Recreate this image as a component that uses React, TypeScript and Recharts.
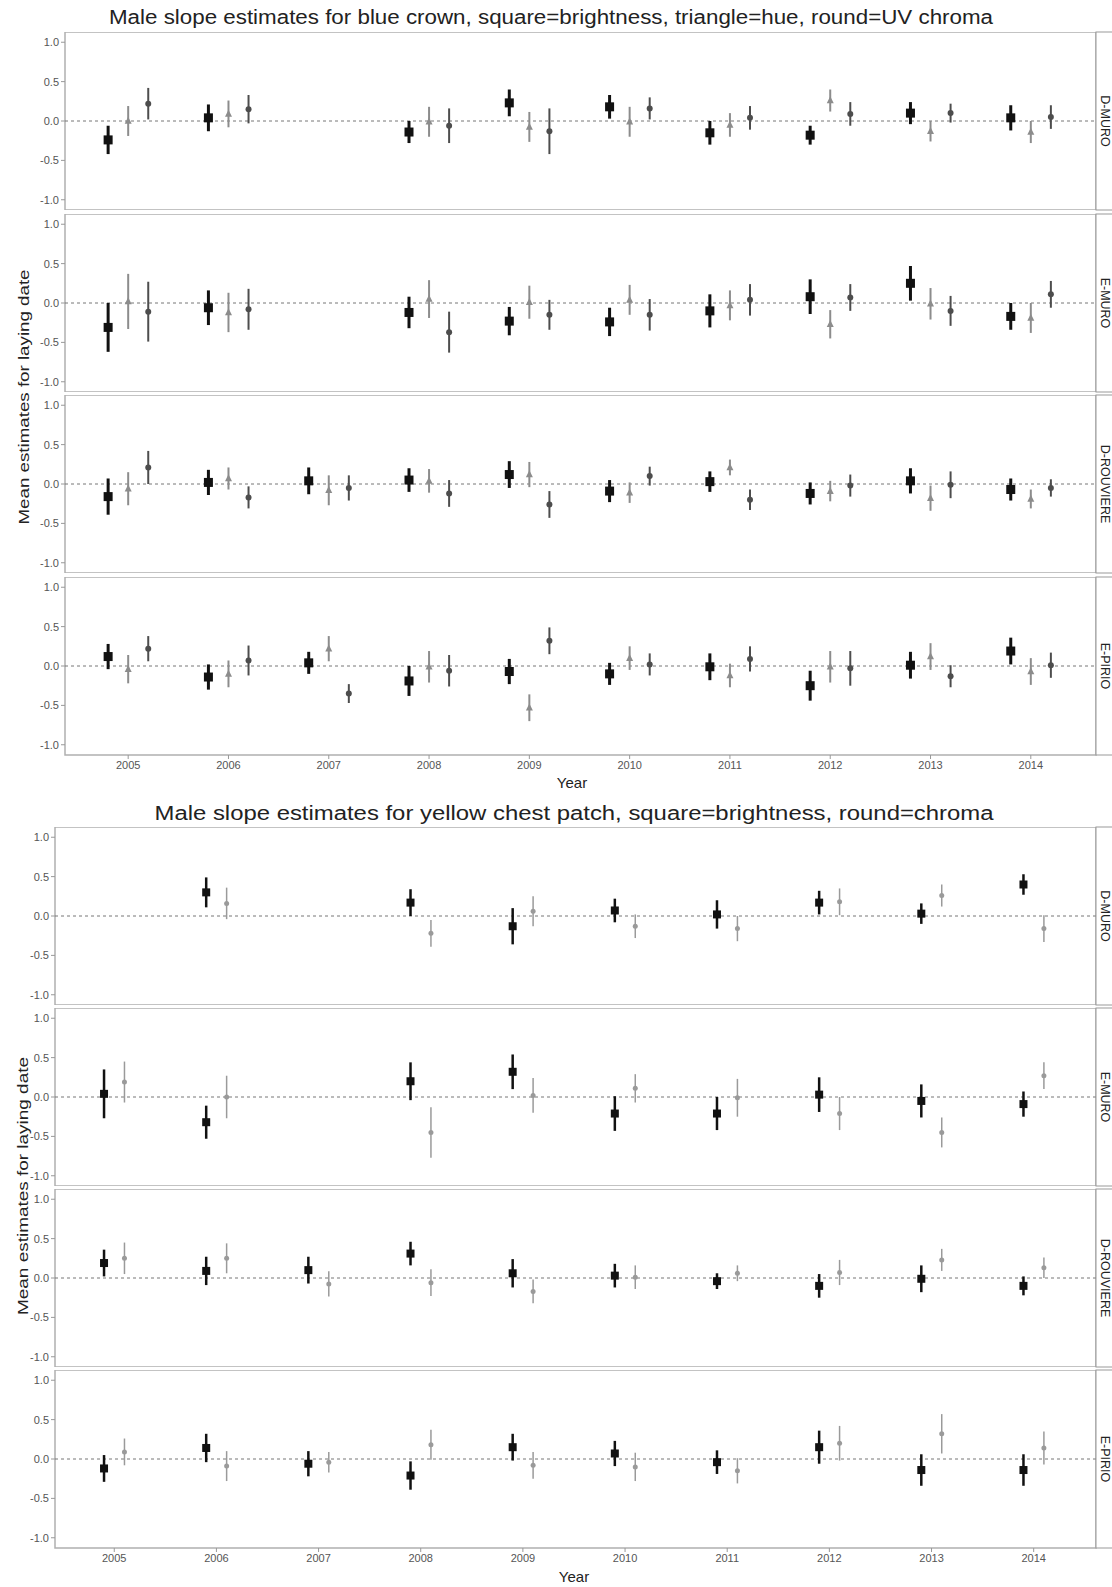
import React from "react";
import { ScatterChart, Scatter, XAxis, YAxis, ErrorBar, ReferenceLine, ReferenceArea } from "recharts";

const years = [2005, 2006, 2007, 2008, 2009, 2010, 2011, 2012, 2013, 2014];
const yTicks = [-1, -0.5, 0, 0.5, 1];
const sites = ["D-MURO", "E-MURO", "D-ROUVIERE", "E-PIRIO"];

// blue crown: brightness (square), hue (triangle), UV chroma (round); CI = half width
const crownDMuroBright = [-0.24, 0.04, null, -0.14, 0.23, 0.18, -0.15, -0.18, 0.1, 0.04];
const crownDMuroBrightCI = [0.18, 0.17, null, 0.14, 0.17, 0.15, 0.15, 0.12, 0.14, 0.16];
const crownDMuroHue = [0.0, 0.09, null, -0.01, -0.075, -0.01, -0.05, 0.26, -0.13, -0.14];
const crownDMuroHueCI = [0.19, 0.17, null, 0.19, 0.19, 0.19, 0.15, 0.14, 0.13, 0.14];
const crownDMuroUV = [0.22, 0.15, null, -0.06, -0.13, 0.16, 0.04, 0.09, 0.1, 0.05];
const crownDMuroUVCI = [0.2, 0.18, null, 0.22, 0.29, 0.14, 0.15, 0.15, 0.12, 0.15];

const crownEMuroBright = [-0.31, -0.06, null, -0.12, -0.23, -0.24, -0.1, 0.08, 0.25, -0.17];
const crownEMuroBrightCI = [0.31, 0.22, null, 0.2, 0.18, 0.18, 0.21, 0.22, 0.22, 0.17];
const crownEMuroHue = [0.02, -0.12, null, 0.05, 0.01, 0.04, -0.03, -0.27, -0.01, -0.19];
const crownEMuroHueCI = [0.35, 0.25, null, 0.24, 0.21, 0.19, 0.19, 0.18, 0.2, 0.19];
const crownEMuroUV = [-0.11, -0.08, null, -0.37, -0.15, -0.15, 0.04, 0.07, -0.1, 0.11];
const crownEMuroUVCI = [0.38, 0.26, null, 0.26, 0.19, 0.2, 0.2, 0.17, 0.19, 0.17];

const crownDRouvBright = [-0.16, 0.02, 0.04, 0.05, 0.12, -0.09, 0.03, -0.12, 0.04, -0.07];
const crownDRouvBrightCI = [0.23, 0.16, 0.17, 0.15, 0.17, 0.14, 0.13, 0.14, 0.16, 0.14];
const crownDRouvHue = [-0.06, 0.07, -0.08, 0.04, 0.12, -0.11, 0.21, -0.09, -0.18, -0.19];
const crownDRouvHueCI = [0.21, 0.14, 0.19, 0.15, 0.16, 0.13, 0.1, 0.13, 0.16, 0.12];
const crownDRouvUV = [0.21, -0.17, -0.05, -0.12, -0.26, 0.1, -0.2, -0.02, -0.01, -0.05];
const crownDRouvUVCI = [0.21, 0.14, 0.16, 0.17, 0.17, 0.12, 0.13, 0.14, 0.17, 0.11];

const crownEPirioBright = [0.12, -0.14, 0.04, -0.19, -0.07, -0.1, -0.01, -0.25, 0.01, 0.19];
const crownEPirioBrightCI = [0.16, 0.16, 0.14, 0.19, 0.16, 0.14, 0.17, 0.19, 0.17, 0.17];
const crownEPirioHue = [-0.04, -0.1, 0.22, -0.01, -0.53, 0.1, -0.12, -0.01, 0.12, -0.07];
const crownEPirioHueCI = [0.18, 0.17, 0.16, 0.2, 0.17, 0.15, 0.15, 0.2, 0.17, 0.17];
const crownEPirioUV = [0.22, 0.07, -0.35, -0.06, 0.32, 0.02, 0.09, -0.03, -0.13, 0.01];
const crownEPirioUVCI = [0.16, 0.19, 0.12, 0.2, 0.17, 0.14, 0.16, 0.22, 0.14, 0.16];

// yellow chest patch: brightness (square), chroma (round)
const chestDMuroBright = [null, 0.3, null, 0.17, -0.13, 0.07, 0.02, 0.17, 0.03, 0.4];
const chestDMuroBrightCI = [null, 0.19, null, 0.17, 0.23, 0.15, 0.18, 0.15, 0.13, 0.13];
const chestDMuroChroma = [null, 0.16, null, -0.22, 0.06, -0.13, -0.16, 0.18, 0.26, -0.16];
const chestDMuroChromaCI = [null, 0.2, null, 0.17, 0.19, 0.15, 0.16, 0.17, 0.14, 0.17];

const chestEMuroBright = [0.04, -0.32, null, 0.2, 0.32, -0.21, -0.21, 0.03, -0.05, -0.09];
const chestEMuroBrightCI = [0.31, 0.21, null, 0.24, 0.22, 0.22, 0.21, 0.22, 0.21, 0.16];
const chestEMuroChroma = [0.19, 0.0, null, -0.45, 0.02, 0.11, -0.01, -0.21, -0.45, 0.27];
const chestEMuroChromaCI = [0.26, 0.27, null, 0.32, 0.22, 0.18, 0.24, 0.21, 0.19, 0.17];

const chestDRouvBright = [0.19, 0.09, 0.1, 0.31, 0.06, 0.03, -0.04, -0.1, -0.01, -0.1];
const chestDRouvBrightCI = [0.17, 0.18, 0.17, 0.15, 0.18, 0.15, 0.1, 0.15, 0.17, 0.12];
const chestDRouvChroma = [0.25, 0.25, -0.075, -0.06, -0.17, 0.01, 0.06, 0.07, 0.23, 0.13];
const chestDRouvChromaCI = [0.2, 0.19, 0.16, 0.17, 0.15, 0.15, 0.1, 0.16, 0.14, 0.13];

const chestEPirioBright = [-0.12, 0.14, -0.06, -0.21, 0.15, 0.07, -0.04, 0.15, -0.14, -0.14];
const chestEPirioBrightCI = [0.17, 0.18, 0.16, 0.18, 0.17, 0.16, 0.15, 0.21, 0.2, 0.2];
const chestEPirioChroma = [0.09, -0.09, -0.04, 0.18, -0.08, -0.1, -0.15, 0.2, 0.32, 0.14];
const chestEPirioChromaCI = [0.17, 0.19, 0.13, 0.19, 0.17, 0.18, 0.16, 0.22, 0.25, 0.21];

const FONT = "'Liberation Sans', Arial, sans-serif";
const Y_DOMAIN: [number, number] = [-1.13, 1.13];
const PANEL_H = 178;
const PLOT_RIGHT = 1096;

type Kind = "square" | "triangle" | "circle";
type Style = { kind: Kind; shift: number; fill: string; size: number; bar: number };
type Series = { values: (number | null)[]; ci: (number | null)[]; style: Style };

const crownSquare: Style = { kind: "square", shift: -0.2, fill: "#111", size: 9, bar: 3 };
const crownTri: Style = { kind: "triangle", shift: 0, fill: "#8c8c8c", size: 7, bar: 2 };
const crownRound: Style = { kind: "circle", shift: 0.2, fill: "#4d4d4d", size: 6, bar: 2 };
const chestSquare: Style = { kind: "square", shift: -0.1, fill: "#111", size: 8, bar: 2.5 };
const chestRound: Style = { kind: "circle", shift: 0.1, fill: "#9a9a9a", size: 5, bar: 1.5 };

const crownPanels: Series[][] = [
  [
    { values: crownDMuroBright, ci: crownDMuroBrightCI, style: crownSquare },
    { values: crownDMuroHue, ci: crownDMuroHueCI, style: crownTri },
    { values: crownDMuroUV, ci: crownDMuroUVCI, style: crownRound },
  ],
  [
    { values: crownEMuroBright, ci: crownEMuroBrightCI, style: crownSquare },
    { values: crownEMuroHue, ci: crownEMuroHueCI, style: crownTri },
    { values: crownEMuroUV, ci: crownEMuroUVCI, style: crownRound },
  ],
  [
    { values: crownDRouvBright, ci: crownDRouvBrightCI, style: crownSquare },
    { values: crownDRouvHue, ci: crownDRouvHueCI, style: crownTri },
    { values: crownDRouvUV, ci: crownDRouvUVCI, style: crownRound },
  ],
  [
    { values: crownEPirioBright, ci: crownEPirioBrightCI, style: crownSquare },
    { values: crownEPirioHue, ci: crownEPirioHueCI, style: crownTri },
    { values: crownEPirioUV, ci: crownEPirioUVCI, style: crownRound },
  ],
];

const chestPanels: Series[][] = [
  [
    { values: chestDMuroBright, ci: chestDMuroBrightCI, style: chestSquare },
    { values: chestDMuroChroma, ci: chestDMuroChromaCI, style: chestRound },
  ],
  [
    { values: chestEMuroBright, ci: chestEMuroBrightCI, style: chestSquare },
    { values: chestEMuroChroma, ci: chestEMuroChromaCI, style: chestRound },
  ],
  [
    { values: chestDRouvBright, ci: chestDRouvBrightCI, style: chestSquare },
    { values: chestDRouvChroma, ci: chestDRouvChromaCI, style: chestRound },
  ],
  [
    { values: chestEPirioBright, ci: chestEPirioBrightCI, style: chestSquare },
    { values: chestEPirioChroma, ci: chestEPirioChromaCI, style: chestRound },
  ],
];

function rows(s: Series) {
  return years.flatMap((yr, i) =>
    s.values[i] == null ? [] : [{ x: yr + s.style.shift, y: s.values[i], ci: s.ci[i] }]
  );
}

const marker = (st: Style) => (props: any) => {
  const { cx, cy } = props;
  if (cx == null || cy == null) return <g />;
  const s = st.size;
  if (st.kind === "square") return <rect x={cx - s / 2} y={cy - s / 2} width={s} height={s} fill={st.fill} />;
  if (st.kind === "triangle")
    return <polygon points={`${cx},${cy - s * 0.6} ${cx - s / 2},${cy + s * 0.4} ${cx + s / 2},${cy + s * 0.4}`} fill={st.fill} />;
  return <circle cx={cx} cy={cy} r={s / 2} fill={st.fill} />;
};

function Panel({ top, series, showX, axisW, xDomain }: { top: number; series: Series[]; showX: boolean; axisW: number; xDomain: [number, number] }) {
  return (
    <div style={{ position: "absolute", left: 0, top }}>
      <ScatterChart width={1112} height={showX ? PANEL_H + 30 : PANEL_H} margin={{ top: 0, right: 1112 - PLOT_RIGHT, bottom: 0, left: 0 }}>
        <XAxis
          type="number"
          dataKey="x"
          domain={xDomain}
          ticks={years}
          interval={0}
          allowDataOverflow
          hide={!showX}
          height={30}
          axisLine={false}
          tickSize={4}
          tickMargin={2}
          tickLine={{ stroke: "#999" }}
          tick={{ fontSize: 11, fill: "#555", fontFamily: FONT }}
        />
        <YAxis
          type="number"
          dataKey="y"
          domain={Y_DOMAIN}
          ticks={yTicks}
          interval={0}
          allowDataOverflow
          width={axisW}
          axisLine={false}
          tickSize={4}
          tickMargin={2}
          tickLine={{ stroke: "#999" }}
          tickFormatter={(v: number) => v.toFixed(1)}
          tick={{ fontSize: 11, fill: "#555", fontFamily: FONT }}
        />
        <ReferenceArea x1={xDomain[0]} x2={xDomain[1]} y1={Y_DOMAIN[0]} y2={Y_DOMAIN[1]} fill="none" stroke="#b0b0b0" strokeWidth={1.5} />
        <ReferenceLine y={0} stroke="#777" strokeDasharray="3 3" />
        {series.map((s, i) => (
          <Scatter key={i} data={rows(s)} isAnimationActive={false} shape={marker(s.style)}>
            <ErrorBar dataKey="ci" direction="y" width={0} stroke={s.style.fill} strokeWidth={s.style.bar} />
          </Scatter>
        ))}
      </ScatterChart>
    </div>
  );
}

const crownTops = [32, 214, 395, 577];
const chestTops = [827, 1008, 1189, 1370];

export default function App() {
  return (
    <div style={{ position: "absolute", left: 0, top: 0, width: 1112, height: 1587, overflow: "hidden", background: "#fff", fontFamily: FONT }}>
      {crownPanels.map((p, i) => (
        <Panel key={"c" + i} top={crownTops[i]} series={p} showX={i === 3} axisW={65} xDomain={[2004.37, 2014.65]} />
      ))}
      {chestPanels.map((p, i) => (
        <Panel key={"y" + i} top={chestTops[i]} series={p} showX={i === 3} axisW={55} xDomain={[2004.42, 2014.61]} />
      ))}
      <svg width={1112} height={1587} style={{ position: "absolute", left: 0, top: 0, pointerEvents: "none" }}>
        <text x={551} y={24} textAnchor="middle" fontSize={20} fill="#222" fontFamily={FONT} textLength={884} lengthAdjust="spacingAndGlyphs">
          Male slope estimates for blue crown, square=brightness, triangle=hue, round=UV chroma
        </text>
        <text x={574} y={820} textAnchor="middle" fontSize={20} fill="#222" fontFamily={FONT} textLength={839} lengthAdjust="spacingAndGlyphs">
          Male slope estimates for yellow chest patch, square=brightness, round=chroma
        </text>
        <text transform="translate(29,397) rotate(-90)" textAnchor="middle" fontSize={15} fill="#222" fontFamily={FONT} textLength={255} lengthAdjust="spacingAndGlyphs">
          Mean estimates for laying date
        </text>
        <text transform="translate(28,1186) rotate(-90)" textAnchor="middle" fontSize={15} fill="#222" fontFamily={FONT} textLength={258} lengthAdjust="spacingAndGlyphs">
          Mean estimates for laying date
        </text>
        <text x={572} y={788} textAnchor="middle" fontSize={15} fill="#222" fontFamily={FONT}>Year</text>
        <text x={574} y={1582} textAnchor="middle" fontSize={15} fill="#222" fontFamily={FONT}>Year</text>
        {[...crownTops, ...chestTops].map((t, i) => (
          <g key={i}>
            <rect x={PLOT_RIGHT} y={t} width={30} height={PANEL_H} fill="#fff" stroke="#999" />
            <text transform={`translate(1104.5,${t + PANEL_H / 2}) rotate(90)`} textAnchor="middle" dominantBaseline="central" fontSize={12.5} fill="#222" fontFamily={FONT}>
              {sites[i % 4]}
            </text>
          </g>
        ))}
      </svg>
    </div>
  );
}
